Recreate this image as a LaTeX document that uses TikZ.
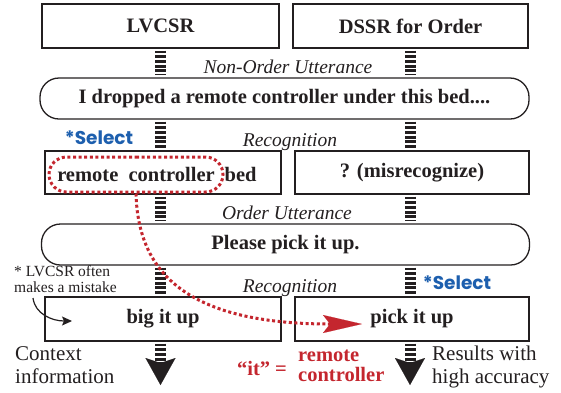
\documentclass[tikz,border=0pt]{standalone}
\usepackage{fontspec}
\setmainfont{Liberation Serif}
\newfontfamily\selfont{Poppins}
\usetikzlibrary{arrows.meta,shapes.misc}

\definecolor{ink}{HTML}{231F20}
\definecolor{selblue}{HTML}{1D5FAE}
\definecolor{mark}{HTML}{C4262E}

\tikzset{
  box/.style={draw=ink, line width=1.3pt, rectangle, inner sep=0pt, text=ink,
    font=\bfseries\fontsize{20.5}{22}\selectfont},
  utt/.style={box, rounded corners=19pt},
  flow/.style={draw=ink, line width=11pt, dash pattern=on 2.8pt off 1.9pt},
  caption/.style={inner sep=0pt, text=ink, font=\itshape\fontsize{19.5}{22}\selectfont},
  select/.style={inner sep=0pt, text=selblue, font=\selfont\bfseries\fontsize{18.5}{20}\selectfont},
  plain/.style={inner sep=0pt, text=ink, align=left, font=\fontsize{21}{23}\selectfont},
  remark/.style={inner sep=0pt, text=ink, align=left, font=\fontsize{15.5}{16}\selectfont},
  redtext/.style={inner sep=0pt, text=mark, align=left, font=\bfseries\fontsize{20.5}{20}\selectfont},
  redline/.style={draw=mark, line width=3pt, dash pattern=on 3pt off 2.6pt},
  bigtip/.style={-{Stealth[length=27pt,width=30pt,inset=5pt,line width=0.1pt]}}
}

\begin{document}
\begin{tikzpicture}[x=1pt,y=-1pt]
\useasboundingbox (0,0) rectangle (561,392);

% x positions of the two vertical flows
\coordinate (cl) at (160.5,0);
\coordinate (cr) at (410,0);

% recogniser headers
\node[box, minimum width=237pt, minimum height=44pt] (lv) at (160.5,26) {LVCSR};
\node[box, minimum width=235pt, minimum height=44pt] (ds) at (410.5,26) {DSSR for Order};

% first utterance
\node[utt, minimum width=489pt, minimum height=41pt] (u1) at (284.5,98.5)
  {I dropped a remote controller under this bed....};

% recognition results of the first utterance
\node[box, minimum width=236pt, minimum height=43pt] (r2l) at (163,172.5) {};
\node[box, minimum width=234pt, minimum height=43pt] (r2r) at (412,172.5) {? (misrecognize)};
\node[inner sep=0pt, minimum width=174pt, minimum height=35pt, rounded rectangle,
      redline, text=ink, font=\bfseries\fontsize{20.5}{22}\selectfont] (sel) at (136,174.5)
  {remote\ \ controller};
\node[anchor=west, inner sep=0pt, text=ink, font=\bfseries\fontsize{20.5}{22}\selectfont]
  (bed) at (sel.east) {bed};

% second utterance
\node[utt, minimum width=488pt, minimum height=41pt] (u2) at (285.5,244.5) {Please pick it up.};

% recognition results of the second utterance
\node[box, minimum width=236pt, minimum height=44pt] (r3l) at (163,319) {big it up};
\node[box, minimum width=234pt, minimum height=44pt] (r3r) at (412,319) {pick it up};

% captions between the stages
\node[caption] (c1) at (288,67) {Non-Order Utterance};
\node[caption] (c2) at (290,142) {Recognition};
\node[caption] (c3) at (287,213) {Order Utterance};
\node[caption] (c4) at (290,288) {Recognition};

\node[select] (s1) at (99,138) {*Select};
\node[select] (s2) at (457,283) {*Select};

% vertical flows
\foreach \a/\b in {lv/u1, u1/r2l, r2l/u2, u2/r3l}{
  \draw[flow, shorten <=2pt, shorten >=2pt] (\a.south -| cl) -- (\b.north -| cl);
}
\foreach \a/\b in {ds/u1, u1/r2r, r2r/u2, u2/r3r}{
  \draw[flow, shorten <=2pt, shorten >=2pt] (\a.south -| cr) -- (\b.north -| cr);
}
\coordinate (endl) at (160.5,385);
\coordinate (endr) at (410,385);
\draw[flow, bigtip, shorten <=2pt] (r3l.south -| cl) -- (endl);
\draw[flow, bigtip, shorten <=2pt] (r3r.south -| cr) -- (endr);

% side notes
\node[remark, anchor=north west] (note) at (14,265) {* LVCSR often\\makes a mistake};
\coordinate (ns) at (33,298);
\coordinate (nt) at (72,321);
\draw[draw=ink, line width=1.2pt, -{Stealth[length=10pt,width=9pt,inset=2pt]}]
  (ns) .. controls (35,314) and (52,321) .. (nt);

\node[plain, anchor=north west] (ctx) at (15,346) {Context\\information};
\node[plain, anchor=north west] (res) at (432,346) {Results with\\high accuracy};
\node[redtext] (itq) at (262,368) {“it” =};
\node[redtext, anchor=north west] (rc) at (298,350) {remote\\controller};

% context link from the selected words to the order result
\coordinate (rtip) at (362,324);
\draw[redline, -{Stealth[length=39pt,width=18pt,inset=7pt,line width=0.1pt]}]
  (sel.south) .. controls (138,275) and (190,324) .. (rtip);
\end{tikzpicture}
\end{document}
